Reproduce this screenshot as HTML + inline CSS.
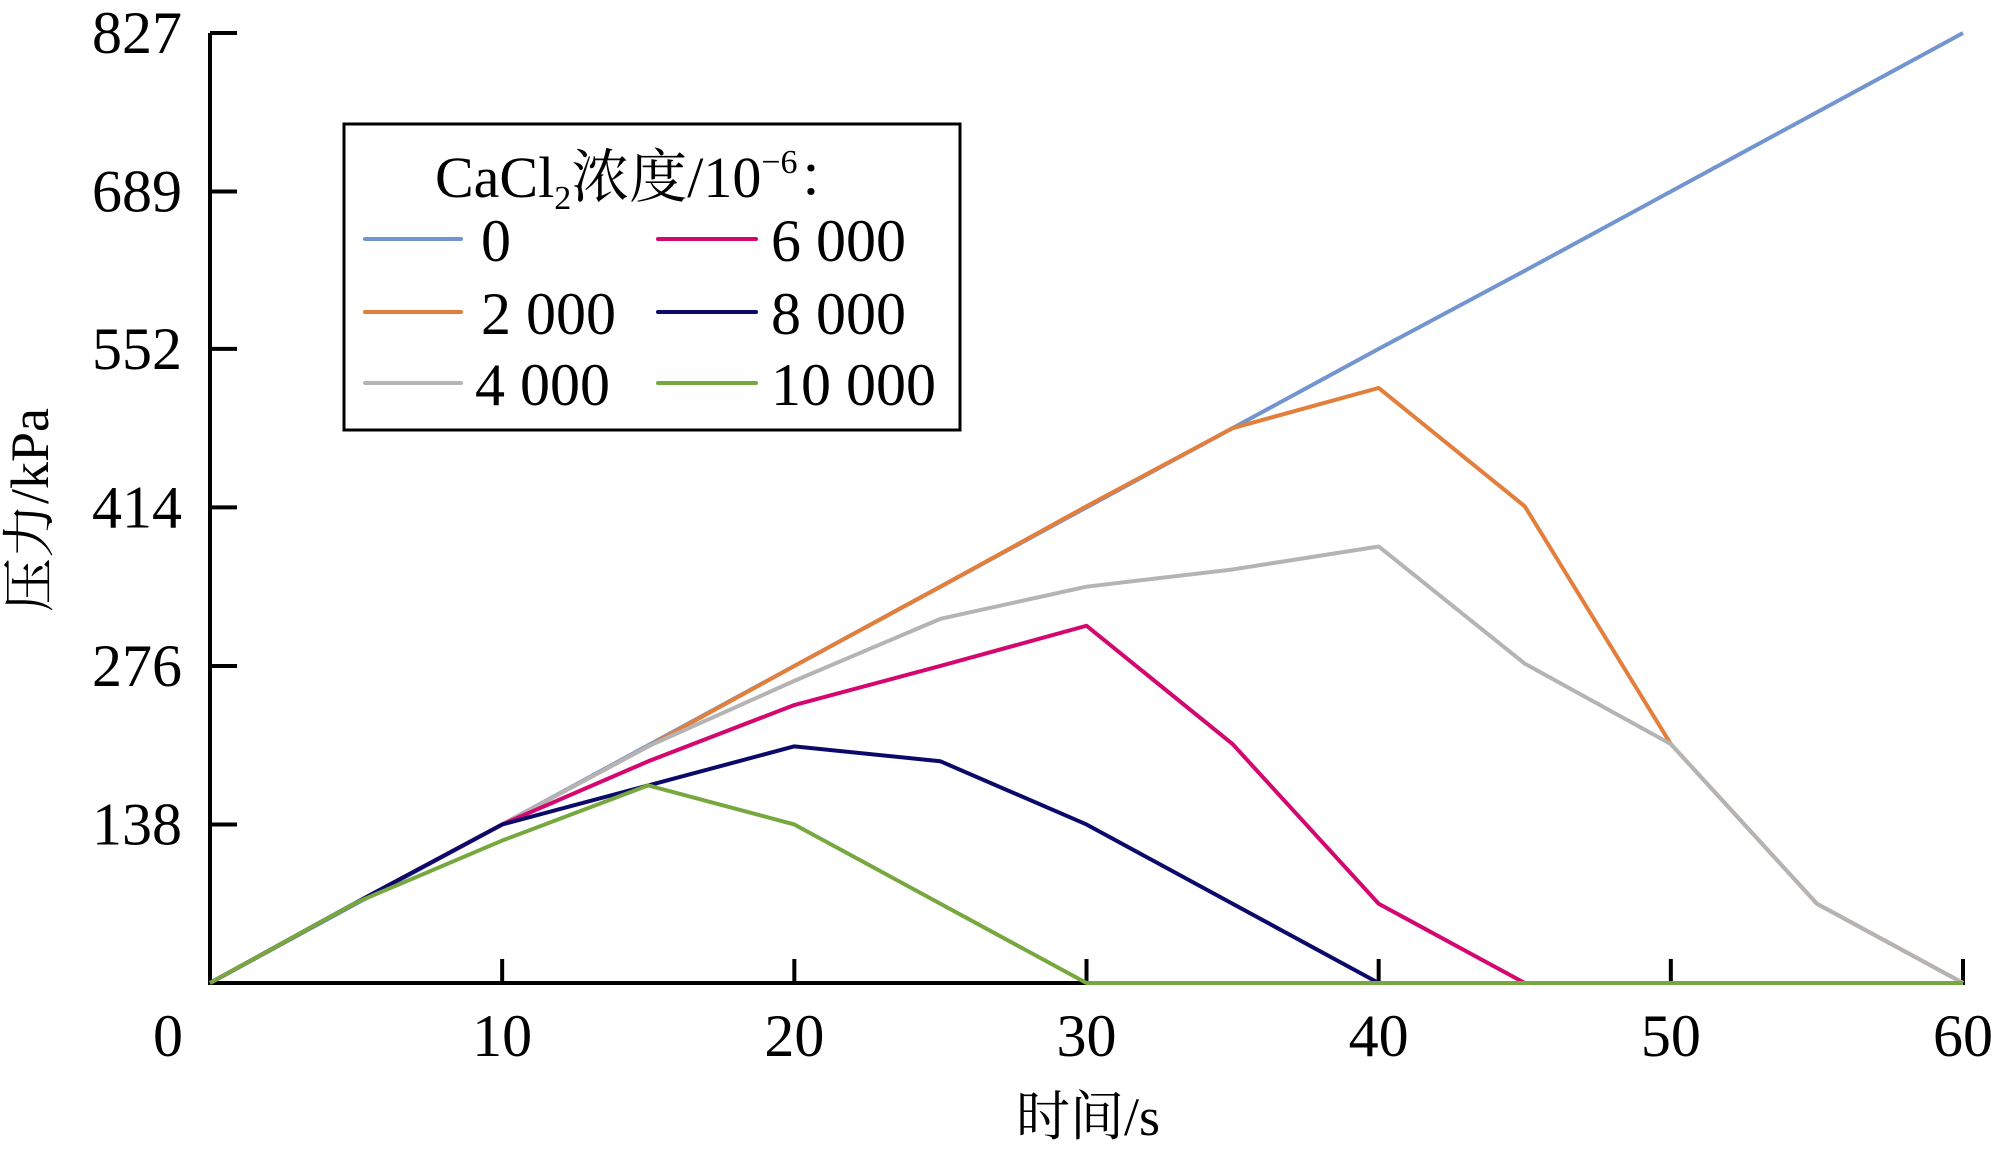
<!DOCTYPE html>
<html><head><meta charset="utf-8">
<style>
html,body{margin:0;padding:0;background:#fff;}
svg{display:block;}
text{font-family:"Liberation Serif","Noto Serif CJK SC","Noto Sans CJK SC",serif;fill:#000;}
</style></head>
<body>
<svg id="chart" width="1996" height="1158" viewBox="0 0 1996 1158" xmlns="http://www.w3.org/2000/svg">
<g id="series"></g>
<g id="axes"></g>
<text transform="translate(48,510) rotate(-90)" text-anchor="middle" font-size="54">压力/kPa</text>
<text x="1088" y="1135" text-anchor="middle" font-size="54">时间/s</text>
<g>
<rect x="344" y="124" width="616" height="306" fill="#fff" stroke="#000" stroke-width="3"/>
<text x="435" y="197" font-size="58">CaCl<tspan font-size="34" dy="12">2</tspan><tspan dy="-12">浓度/10</tspan><tspan font-size="34" dy="-24">−6</tspan><tspan dy="24">：</tspan></text>
<g id="legendEntries"></g>
</g>
</svg>
<script>
const xTicks=[0,10,20,30,40,50,60];
const yTicks=[0,138,276,414,552,689,827];
const times=[0,5,10,15,20,25,30,35,40,45,50,55,60];
const seriesNames=["0","2 000","4 000","6 000","8 000","10 000"];
const s0=[0,69,138,207,276,345,414,483,552,620,689,758,827];
const s2000=[0,70,138,206,276,345,415,483,518,415,208,69,0];
const s4000=[0,70,138,206,263,317,345,360,380,278,208,69,0];
const s6000=[0,70,138,193,242,276,311,208,69,0,0,0,0];
const s8000=[0,70,138,172,206,193,138,69,0,0,0,0,0];
const s10000=[0,70,124,172,138,69,0,0,0,0,0,0,0];
const colors=["#7295cf","#e27f3c","#b4b4b4","#d4066f","#0b0a6b","#77a83f"];
const allSeries=[s0,s2000,s4000,s6000,s8000,s10000];

const X0=210,X1=1963,Y0=983,Y1=33;
const xs=t=>X0+(t-0)/(60-0)*(X1-X0);
const ys=v=>Y0-(v-0)/(827-0)*(Y0-Y1);
const NS="http://www.w3.org/2000/svg";
const sg=document.getElementById('series');
allSeries.forEach((s,i)=>{
  const p=document.createElementNS(NS,'polyline');
  p.setAttribute('points',s.map((v,j)=>xs(times[j])+','+ys(v)).join(' '));
  p.setAttribute('fill','none');p.setAttribute('stroke',colors[i]);p.setAttribute('stroke-width','4');
  p.setAttribute('stroke-linejoin','round');
  
  
  sg.appendChild(p);
});
const ax=document.getElementById('axes');
function line(x1,y1,x2,y2,name){
  const l=document.createElementNS(NS,'line');
  l.setAttribute('x1',x1);l.setAttribute('y1',y1);l.setAttribute('x2',x2);l.setAttribute('y2',y2);
  l.setAttribute('stroke','#000');l.setAttribute('stroke-width','4');
  
  
  ax.appendChild(l);
}
function txt(x,y,s,anchor,name){
  const t=document.createElementNS(NS,'text');
  t.setAttribute('x',x);t.setAttribute('y',y);t.setAttribute('text-anchor',anchor);t.setAttribute('font-size','60');
  t.textContent=s;
  
  
  ax.appendChild(t);
}
line(X0,Y0+2,X0,Y1,'y-axis-line');
line(X0,Y0,X1+2,Y0,'x-axis-line');
yTicks.forEach(v=>{ if(v>0){ line(X0,ys(v),X0+27,ys(v),'y-tick'); txt(182,ys(v)+20,String(v),'end','y-tick-label');}});
xTicks.forEach(t=>{ if(t>0) line(xs(t),Y0,xs(t),Y0-24,'x-tick'); txt(t===0?168:xs(t),1056,String(t),'middle','x-tick-label');});
ax.parentNode.appendChild(sg);
const lg=document.getElementById('legendEntries');
const lx=[[365,461,481],[658,756,771]];
const rowY=[239,312,383];
seriesNames.forEach((n,i)=>{
  const col=Math.floor(i/3),row=i%3;
  const g=document.createElementNS(NS,'g');
  
  
  const l=document.createElementNS(NS,'line');
  l.setAttribute('x1',lx[col][0]);l.setAttribute('x2',lx[col][1]);l.setAttribute('y1',rowY[row]);l.setAttribute('y2',rowY[row]);
  l.setAttribute('stroke',colors[i]);l.setAttribute('stroke-width','4');l.setAttribute('stroke-linecap','round');
  
  
  g.appendChild(l);
  const t=document.createElementNS(NS,'text');
  t.setAttribute('x',lx[col][2]-(i===2?6:0));t.setAttribute('y',rowY[row]+22);t.setAttribute('font-size','60');
  t.textContent=n;
  
  
  g.appendChild(t);
  lg.appendChild(g);
});
</script>
</body></html>
